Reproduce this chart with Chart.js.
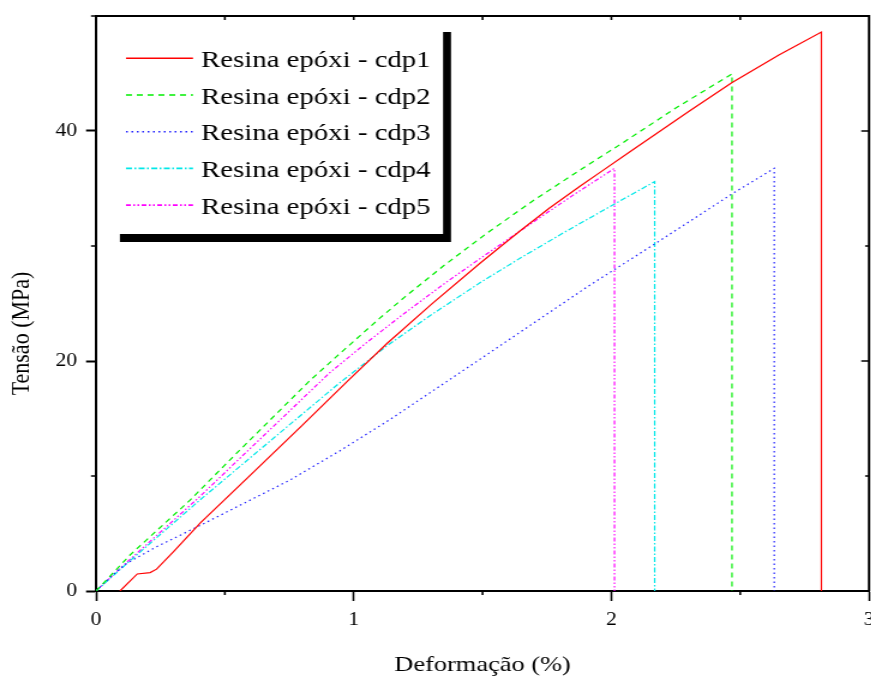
<!DOCTYPE html>
<html><head><meta charset="utf-8">
<script src="https://cdn.jsdelivr.net/npm/chart.js@4.4.1/dist/chart.umd.min.js"></script>
<style>
html,body{margin:0;padding:0;background:#fff;overflow:hidden;}
#c{display:block;transform:scaleX(1.2);transform-origin:0 0;}
</style></head><body>
<canvas id="c" width="726" height="676"></canvas>
<script>
// ---- data ----
const seriesLabels = ['Resina epóxi - cdp1','Resina epóxi - cdp2','Resina epóxi - cdp3','Resina epóxi - cdp4','Resina epóxi - cdp5'];
const x1 = [0.093, 0.16, 0.21, 0.235, 0.30, 0.404, 0.6, 0.8, 0.978, 1.128, 1.3, 1.49, 1.645, 1.76, 1.878, 1.956, 2.072, 2.3, 2.467, 2.65, 2.815, 2.815];
const y1 = [0, 1.48, 1.6, 1.9, 3.4, 5.9, 10.1, 14.4, 18.3, 21.5, 24.9, 28.5, 31.3, 33.3, 35.2, 36.4, 38.2, 41.7, 44.2, 46.6, 48.6, 0];
const x2 = [0, 0.132, 0.365, 0.533, 0.83, 0.934, 1.1, 1.2, 1.35, 1.516, 1.7, 1.878, 2.046, 2.25, 2.468, 2.468];
const y2 = [0, 3.13, 7.9, 11.7, 18.3, 20.4, 23.7, 25.6, 28.3, 31.1, 34.0, 36.6, 39.0, 42.0, 44.96, 0];
const x3 = [0, 0.06, 0.119, 0.235, 0.404, 0.598, 0.753, 0.947, 1.14, 1.5, 1.91, 2.163, 2.473, 2.632, 2.632];
const y3 = [0, 1.3, 2.4, 3.85, 5.7, 7.9, 9.65, 12.2, 14.9, 20.3, 26.5, 30.1, 34.6, 36.75, 0];
const x4 = [0, 0.1, 0.4, 0.7, 0.94, 1.128, 1.3, 1.49, 1.65, 1.826, 2.0, 2.168, 2.168];
const y4 = [0, 2.0, 7.85, 13.5, 18.0, 21.3, 24.0, 26.8, 29.0, 31.3, 33.5, 35.6, 0];
const x5 = [0, 0.1, 0.4, 0.65, 0.908, 1.05, 1.2, 1.35, 1.49, 1.645, 1.85, 2.012, 2.012];
const y5 = [0, 2.1, 8.15, 13.5, 19.0, 21.6, 24.2, 26.7, 28.9, 31.3, 34.4, 36.75, 0];
const xTickLabels = ['0','1','2','3'];
const yTickLabels = ['0','20','40'];
const xTitle = 'Deformação (%)';
const yTitle = 'Tensão (MPa)';

// ---- styles ----
const FONT = '"Liberation Serif", "Times New Roman", serif';
const styles = [
  {color:'#ff0000', dash:[]},
  {color:'#00ee00', dash:[5,4]},
  {color:'#2020ff', dash:[1.5,3]},
  {color:'#00e8e8', dash:[5,2,1.5,2]},
  {color:'#ff00ff', dash:[4,2,1.5,2,1.5,2]}
];
const xs = [x1,x2,x3,x4,x5], ys = [y1,y2,y3,y4,y5];
const datasets = seriesLabels.map((lab,i)=>({
  label: lab,
  data: xs[i].map((x,j)=>({x:x, y:ys[i][j]})),
  showLine: true, pointRadius: 0, borderWidth: 1.2,
  borderColor: styles[i].color, borderDash: styles[i].dash,
  tension: 0, fill: false
}));

const framePlugin = {
  id: 'frame',
  afterDatasetsDraw(chart){
    const ctx = chart.ctx, a = chart.chartArea;
    const sx = chart.scales.x, sy = chart.scales.y;
    ctx.save();
    ctx.strokeStyle = '#000';
    ctx.lineWidth = 2;
    ctx.beginPath();
    ctx.moveTo(a.left, a.top); ctx.lineTo(a.right, a.top); ctx.lineTo(a.right, a.bottom);
    ctx.stroke();
    ctx.lineWidth = 1.6;
    ctx.beginPath();
    sx.ticks.forEach(t=>{
      const px = sx.getPixelForValue(t.value);
      if (!xTickLabels.includes(String(t.value))) { ctx.moveTo(px, a.bottom); ctx.lineTo(px, a.bottom+4); }
      if (t.value>0 && t.value<3) { ctx.moveTo(px, a.top); ctx.lineTo(px, a.top+4); }
    });
    sy.ticks.forEach(t=>{
      const py = sy.getPixelForValue(t.value);
      const major = yTickLabels.includes(String(t.value));
      if (!major) { ctx.moveTo(a.left, py); ctx.lineTo(a.left-4.2, py); }
      if (t.value>0 && t.value<50) { ctx.moveTo(a.right, py); ctx.lineTo(a.right-(major?6.5:3.3), py); }
    });
    ctx.stroke();
    // legend box with shadow
    const bx = 93.3, by = 24, bw = 275.9, bh = 210;
    ctx.fillStyle = '#000';
    ctx.fillRect(bx+6.6, by+8, bw, bh);
    ctx.fillStyle = '#fff';
    ctx.fillRect(bx, by, bw, bh);
    chart.data.datasets.forEach((ds,i)=>{
      const yy = 58.3 + i*36.7;
      ctx.save();
      ctx.strokeStyle = ds.borderColor; ctx.lineWidth = 1.6;
      ctx.setLineDash(ds.borderDash || []);
      ctx.beginPath(); ctx.moveTo(105, yy); ctx.lineTo(160.8, yy); ctx.stroke();
      ctx.restore();
      ctx.fillStyle = '#000';
      ctx.font = '24px ' + FONT;
      ctx.textAlign = 'left'; ctx.textBaseline = 'alphabetic';
      ctx.fillText(ds.label, 167.5, yy + 8.5);
    });
    // axis titles
    ctx.fillStyle = '#000';
    ctx.font = '22px ' + FONT;
    ctx.textAlign = 'center'; ctx.textBaseline = 'alphabetic';
    ctx.fillText(xTitle, (a.left + a.right)/2, 670.5);
    ctx.save();
    ctx.translate(24, 333.5);
    ctx.rotate(-Math.PI/2);
    ctx.fillText(yTitle, 0, 0);
    ctx.restore();
    ctx.restore();
  }
};

Chart.defaults.font.family = FONT;
Chart.defaults.color = '#000';
new Chart(document.getElementById('c'), {
  type: 'scatter',
  data: { datasets },
  options: {
    responsive: false, animation: false, devicePixelRatio: 1,
    layout: { padding: { top: 16, right: 1.8, left: 0, bottom: 0 } },
    plugins: { legend: { display: false }, tooltip: { enabled: false } },
    scales: {
      x: {
        type: 'linear', min: 0, max: 3,
        border: { display: true, color: '#000', width: 2 },
        grid: { drawOnChartArea: false, drawTicks: true, tickLength: 10, tickWidth: 1.6,
                tickColor: c => xTickLabels.includes(String(c.tick.value)) ? '#000' : 'rgba(0,0,0,0)' },
        ticks: { stepSize: 0.5, padding: 8, maxRotation: 0, autoSkip: false,
                 font: { size: 18, family: FONT }, color: '#000',
                 callback: v => xTickLabels.includes(String(v)) ? String(v) : '' },
        afterFit: s => { s.height = 85; s.paddingLeft = 0; s.paddingRight = 0; }
      },
      y: {
        type: 'linear', min: 0, max: 50,
        border: { display: true, color: '#000', width: 2 },
        grid: { drawOnChartArea: false, drawTicks: true, tickLength: 8.3, tickWidth: 2,
                tickColor: c => yTickLabels.includes(String(c.tick.value)) ? '#000' : 'rgba(0,0,0,0)' },
        ticks: { stepSize: 10, padding: 7.5, autoSkip: false,
                 font: { size: 18, family: FONT }, color: '#000',
                 callback: v => yTickLabels.includes(String(v)) ? String(v) : '' },
        afterFit: s => { s.width = 80; s.paddingTop = 0; s.paddingBottom = 0; }
      }
    }
  },
  plugins: [framePlugin]
});
</script>
</body></html>
